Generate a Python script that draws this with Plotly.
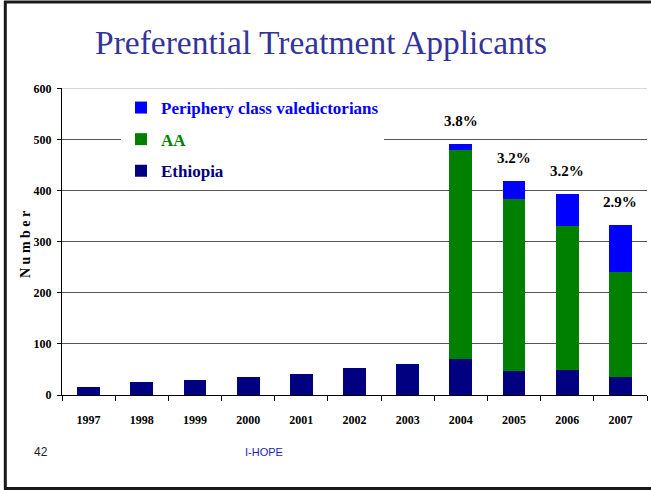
import plotly.graph_objects as go

years = ["1997", "1998", "1999", "2000", "2001", "2002", "2003", "2004", "2005", "2006", "2007"]
ethiopia = [16, 25, 29, 35, 42, 53, 61, 70, 46, 48, 35]
aa = [0, 0, 0, 0, 0, 0, 0, 409, 338, 283, 206]
periphery = [0, 0, 0, 0, 0, 0, 0, 13, 35, 63, 92]
pct_years = ["2004", "2005", "2006", "2007"]
pct_labels = ["3.8%", "3.2%", "3.2%", "2.9%"]
y_ticks = [0, 100, 200, 300, 400, 500, 600]

W, H = 651, 490
def px(x):
    return x / W
def py(y):
    return 1 - y / H

serif = "Liberation Serif, Times New Roman, serif"
sans = "Liberation Sans, Arial, sans-serif"

fig = go.Figure()
fig.add_trace(go.Bar(x=years, y=ethiopia, name='<span style="color:#000080">Ethiopia</span>',
                     marker=dict(color="#000080", line=dict(width=0)), width=0.43,
                     legendgroup="c", legendrank=3, hoverinfo="y"))
fig.add_trace(go.Bar(x=years, y=aa, name='<span style="color:#008000">AA</span>',
                     marker=dict(color="#008000", line=dict(width=0)), width=0.43,
                     legendgroup="b", legendrank=2, hoverinfo="y"))
fig.add_trace(go.Bar(x=years, y=periphery, name='<span style="color:#0000FF">Periphery class valedictorians</span>',
                     marker=dict(color="#0000FF", line=dict(width=0)), width=0.43,
                     legendgroup="a", legendrank=1, hoverinfo="y"))

totals = [e + a + p for e, a, p in zip(ethiopia, aa, periphery)]
annotations = []
for yr, lab in zip(pct_years, pct_labels):
    i = years.index(yr)
    annotations.append(dict(x=i, y=totals[i], xref="x", yref="y", text=lab, showarrow=False,
                            yanchor="bottom", yshift=13,
                            font=dict(family=serif, size=15, color="black", weight="bold")))

annotations += [
    dict(x=px(321), y=py(43), xref="paper", yref="paper", text="Preferential Treatment Applicants",
         showarrow=False, xanchor="center", yanchor="middle",
         font=dict(family=serif, size=33.5, color="#333399")),
    dict(x=px(25), y=py(245), xref="paper", yref="paper", text="N u m b e r", textangle=-90,
         showarrow=False, xanchor="center", yanchor="middle",
         font=dict(family=serif, size=14, color="black", weight="bold")),
    dict(x=px(41), y=py(452), xref="paper", yref="paper", text="42", showarrow=False,
         xanchor="center", yanchor="middle", font=dict(family=sans, size=12, color="#222222")),
    dict(x=px(264), y=py(452), xref="paper", yref="paper", text="I-HOPE", showarrow=False,
         xanchor="center", yanchor="middle", font=dict(family=sans, size=11, color="#2222bb")),
]

shapes = [
    dict(type="line", xref="paper", yref="y", x0=px(62), x1=px(647), y0=600, y1=600,
         line=dict(color="#c8c8c8", width=1.5), layer="above"),
    dict(type="line", xref="paper", yref="paper", x0=px(5.3), x1=px(5.3), y0=py(1), y1=py(489),
         line=dict(color="#1a1a1a", width=3)),
    dict(type="line", xref="paper", yref="paper", x0=px(4), x1=1.01, y0=py(2), y1=py(2),
         line=dict(color="#1a1a1a", width=3)),
    dict(type="line", xref="paper", yref="paper", x0=px(4), x1=1.01, y0=py(488.5), y1=py(488.5),
         line=dict(color="#1a1a1a", width=3)),
]

fig.update_layout(
    width=W, height=H,
    margin=dict(l=0, r=0, t=0, b=0, autoexpand=False),
    paper_bgcolor="white", plot_bgcolor="white",
    barmode="stack", bargap=0.57,
    showlegend=True,
    legend=dict(x=px(121), y=py(90), xanchor="left", yanchor="top",
                bgcolor="white", borderwidth=0,
                traceorder="grouped", tracegroupgap=6.5,
                font=dict(family=serif, size=17, color="black", weight="bold"),
                itemwidth=30, itemclick=False),
    xaxis=dict(domain=[px(62), px(647)], range=[-0.5, 10.5], type="category",
               showline=True, linecolor="black", linewidth=1,
               ticks="outside", tickson="boundaries", ticklen=5, tickcolor="black",
               ticklabelstandoff=14, automargin=False,
               tickfont=dict(family=serif, size=12, color="black", weight="bold"),
               showgrid=False, zeroline=False, fixedrange=True),
    yaxis=dict(domain=[py(395), py(88.3)], range=[0, 600], tickvals=y_ticks,
               showline=True, linecolor="black", linewidth=1,
               ticks="outside", ticklen=4, tickcolor="black", ticklabelstandoff=3,
               automargin=False,
               tickfont=dict(family=serif, size=12, color="black", weight="bold"),
               showgrid=True, gridcolor="#555555", gridwidth=1,
               zeroline=False, fixedrange=True),
    annotations=annotations,
    shapes=shapes,
)

fig.write_html("out.html", config={"displayModeBar": False},
               post_script="document.body.style.margin='0px';document.body.style.overflow='hidden';")
